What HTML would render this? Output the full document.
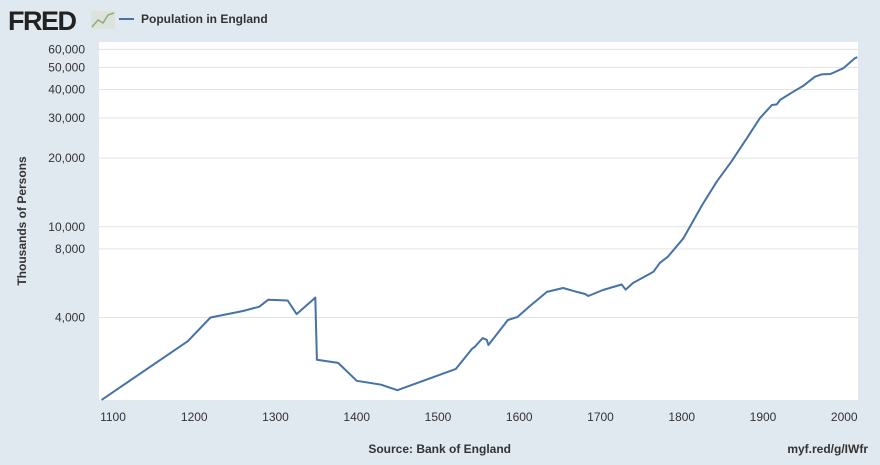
<!DOCTYPE html>
<html><head><meta charset="utf-8"><style>
body{margin:0;background:#e1e9f0;font-family:"Liberation Sans",sans-serif}
svg text{font-family:"Liberation Sans",sans-serif}
</style></head><body>
<svg width="880" height="460">
<rect width="880" height="460" fill="#e1e9f0"/>
<text x="8" y="30" font-size="27" font-weight="bold" fill="#222" letter-spacing="-1.5">FRED</text>
<g><rect x="91" y="11" width="24" height="18" fill="#dde3dc"/><polyline points="92,27 98,20 103,23 108,15 114,13" fill="none" stroke="#8ab07a" stroke-width="1.5"/></g>
<line x1="119" y1="19" x2="134" y2="19" stroke="#4572a7" stroke-width="2"/>
<text x="141" y="23" font-size="12" font-weight="bold" fill="#333">Population in England</text>
<rect x="99" y="42" width="759" height="358" fill="#fff"/>
<g id="grid"></g><g id="yt"></g><g id="xt"></g>
<path id="line" fill="none" stroke="#4572a7" stroke-width="2" stroke-linejoin="round"/>
<text transform="translate(26,221) rotate(-90)" text-anchor="middle" font-size="12" font-weight="bold" fill="#333">Thousands of Persons</text>
<text x="511" y="453" text-anchor="end" font-size="12" font-weight="bold" fill="#333">Source: Bank of England</text>
<text x="868" y="453" text-anchor="end" font-size="12" font-weight="bold" fill="#333">myf.red/g/IWfr</text>
</svg>
<script>
const years=[1086,1192,1220,1260,1280,1291,1315,1326,1349,1351,1377,1400,1430,1450,1522,1542,1545,1555,1560,1562,1586,1598,1613,1625,1634,1654,1671,1681,1685,1703,1726,1731,1740,1765,1773,1783,1802,1825,1843,1861,1880,1896,1911,1917,1921,1937,1950,1964,1972,1983,1999,2013,2016];
const pop=[1740,3150,4000,4270,4460,4790,4750,4140,4890,2610,2530,2110,2030,1920,2380,2920,2970,3250,3190,3030,3900,4025,4490,4870,5180,5390,5180,5070,4970,5280,5580,5300,5670,6340,6940,7390,8900,12450,15770,19300,24440,29900,34200,34400,36000,39100,41600,45500,46600,46800,49600,54800,55500];
const yTicks=[4000,8000,10000,20000,30000,40000,50000,60000];
const xTicks=[1100,1200,1300,1400,1500,1600,1700,1800,1900,2000];
const X=y=>113+(y-1100)*0.8125;
const Y=v=>317.5-228*Math.log10(v/4000);
const NS="http://www.w3.org/2000/svg";
const g=document.getElementById('grid'),yt=document.getElementById('yt'),xt=document.getElementById('xt');
yTicks.forEach(v=>{
 const l=document.createElementNS(NS,'line');
 l.setAttribute('x1',99);l.setAttribute('x2',858);l.setAttribute('y1',Y(v));l.setAttribute('y2',Y(v));
 l.setAttribute('stroke','#e3e3e3');
 
 
 g.appendChild(l);
 const t=document.createElementNS(NS,'text');
 t.setAttribute('x',85);t.setAttribute('y',Y(v)+4);t.setAttribute('text-anchor','end');
 t.setAttribute('font-size','12');t.setAttribute('fill','#333');
 t.textContent=v.toLocaleString('en-US');
 
 
 yt.appendChild(t);
});
xTicks.forEach(v=>{
 const t=document.createElementNS(NS,'text');
 t.setAttribute('x',X(v));t.setAttribute('y',421);t.setAttribute('text-anchor','middle');
 t.setAttribute('font-size','12');t.setAttribute('fill','#333');
 t.textContent=v;
 
 
 xt.appendChild(t);
});
document.getElementById('line').setAttribute('d',years.map((y,i)=>(i?'L':'M')+X(y).toFixed(1)+','+Y(pop[i]).toFixed(1)).join(''));
</script>
</body></html>
